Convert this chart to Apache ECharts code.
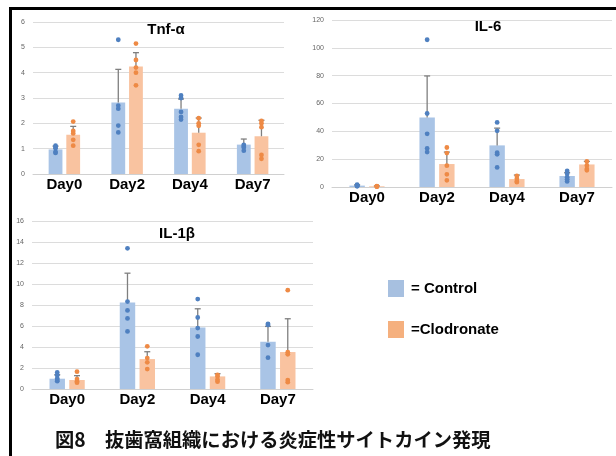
<!DOCTYPE html>
<html>
<head>
<meta charset="utf-8">
<script src="https://cdn.jsdelivr.net/npm/echarts@6/dist/echarts.min.js"></script>
<style>
html,body{margin:0;padding:0;background:#fff;}
#chart{width:616px;height:456px;}
</style>
</head>
<body>
<div id="chart"></div>
<script>
// ---- data ----
const days = ['Day0', 'Day2', 'Day4', 'Day7'];
const groupNames = ['= Control', '=Clodronate'];

const tnfControl = [0.97, 2.82, 2.58, 1.16];
const tnfClod = [1.55, 4.24, 1.63, 1.49];
const tnfControlErr = [1.1, 4.13, 2.96, 1.38];
const tnfClodErr = [1.88, 4.79, 2.21, 2.12];
const tnfControlDots = [[1.12, 1.07, 1.02, 0.87, 0.83], [5.3, 2.7, 2.58, 1.91, 1.64], [3.1, 3.0, 2.45, 2.25, 2.15], [1.15, 1.1, 1.05, 0.92]];
const tnfClodDots = [[2.07, 1.7, 1.6, 1.35, 1.12], [5.15, 4.5, 4.2, 4.0, 3.5], [2.2, 2.0, 1.9, 1.15, 0.9], [2.1, 2.0, 1.85, 0.75, 0.6]];

const il6Control = [1.0, 49.9, 29.9, 7.9];
const il6Clod = [0.5, 16.5, 5.7, 16.2];
const il6ControlErr = [1.6, 79.8, 42.3, 10.3];
const il6ClodErr = [0.8, 25.1, 8.6, 18.4];
const il6ControlDots = [[1.6, 1.2, 1.0, 0.8, 0.5], [105.8, 52.8, 38.2, 27.7, 25.1], [46.4, 40.4, 24.6, 23.5, 14.1], [11.5, 9.5, 7.0, 5.5, 4.0]];
const il6ClodDots = [[0.7, 0.5, 0.3, 0.2], [28.4, 24.4, 15.3, 9.1, 4.8], [7.9, 6.0, 4.2, 3.5], [18.4, 15.5, 13.0, 12.0]];

const il1bControl = [0.98, 8.24, 5.86, 4.5];
const il1bClod = [0.86, 2.85, 1.2, 3.52];
const il1bControlErr = [1.36, 11.03, 7.64, 5.96];
const il1bClodErr = [1.27, 3.55, 1.46, 6.69];
const il1bControlDots = [[1.58, 1.3, 1.0, 0.85, 0.75], [13.4, 8.33, 7.48, 6.72, 5.48], [8.56, 6.81, 5.8, 5.0, 3.26], [6.21, 6.1, 4.18, 2.98]];
const il1bClodDots = [[1.65, 0.95, 0.75, 0.6], [4.06, 2.95, 2.54, 1.9], [1.35, 1.2, 0.89, 0.7], [9.41, 3.5, 3.3, 0.85, 0.65]];

const yTicks = [
  {min: 0, max: 6, interval: 1},
  {min: 0, max: 120, interval: 20},
  {min: 0, max: 16, interval: 2}
];
const chartTitles = ['Tnf-α', 'IL-6', 'IL-1β'];
const figTitle = '図8　抜歯窩組織における炎症性サイトカイン発現';

// ---- styles ----
const barColors = ['#a9c4e6', '#f9c3a0'];
const legendColors = ['#a7c0e0', '#f5b07e'];
const dotColors = ['#4f80c0', '#ee8a45'];
const errColor = '#7f7f7f';
const BAR_W = 0.22, BAR_GAP = 0.28;
const OFFSET = BAR_W * (1 + BAR_GAP) / 2;

const grids = [
  {left: 33, top: 22, width: 251, height: 152},
  {left: 332, top: 20, width: 280, height: 167},
  {left: 32, top: 221, width: 281, height: 168}
];

const panels = [
  {ctrl: tnfControl, clod: tnfClod, ctrlErr: tnfControlErr, clodErr: tnfClodErr, ctrlDots: tnfControlDots, clodDots: tnfClodDots},
  {ctrl: il6Control, clod: il6Clod, ctrlErr: il6ControlErr, clodErr: il6ClodErr, ctrlDots: il6ControlDots, clodDots: il6ClodDots},
  {ctrl: il1bControl, clod: il1bClod, ctrlErr: il1bControlErr, clodErr: il1bClodErr, ctrlDots: il1bControlDots, clodDots: il1bClodDots}
];

function errRender(params, api) {
  const cat = api.value(0), base = api.value(1), top = api.value(2), g = api.value(3);
  const band = api.size([1, 0])[0];
  const dx = (g === 0 ? -1 : 1) * band * OFFSET;
  const p0 = api.coord([cat, base]);
  const p1 = api.coord([cat, top]);
  const x = p0[0] + dx;
  const cap = 3;
  return {
    type: 'group',
    children: [
      {type: 'line', shape: {x1: x, y1: p0[1], x2: x, y2: p1[1]}, style: {stroke: errColor, lineWidth: 1.3}},
      {type: 'line', shape: {x1: x - cap, y1: p1[1], x2: x + cap, y2: p1[1]}, style: {stroke: errColor, lineWidth: 1.3}}
    ]
  };
}
function dotRender(params, api) {
  const cat = api.value(0), v = api.value(1), g = api.value(2);
  const band = api.size([1, 0])[0];
  const dx = (g === 0 ? -1 : 1) * band * OFFSET;
  const p = api.coord([cat, v]);
  return {type: 'circle', shape: {cx: p[0] + dx, cy: p[1], r: 2.4}, style: {fill: dotColors[g]}};
}

const xAxes = [], yAxes = [], series = [];
panels.forEach((pn, i) => {
  xAxes.push({
    type: 'category', gridIndex: i, data: days,
    axisTick: {show: false},
    axisLine: {show: true, lineStyle: {color: '#d0d0d0', width: 1}},
    axisLabel: {fontSize: 15, fontWeight: 'bold', color: '#000', fontFamily: 'Liberation Sans, Arial', margin: 3}
  });
  yAxes.push({
    type: 'value', gridIndex: i, min: yTicks[i].min, max: yTicks[i].max, interval: yTicks[i].interval,
    axisLine: {show: false}, axisTick: {show: false},
    axisLabel: {fontSize: 7, color: '#666', margin: 8, fontFamily: 'Liberation Sans, Arial'},
    splitLine: {lineStyle: {color: '#dcdcdc', width: 1}}
  });
  series.push({
    type: 'bar', name: groupNames[0], xAxisIndex: i, yAxisIndex: i, data: pn.ctrl,
    barWidth: (BAR_W * 100) + '%', barGap: (BAR_GAP * 100) + '%',
    itemStyle: {color: barColors[0]}, silent: true, z: 2
  });
  series.push({
    type: 'bar', name: groupNames[1], xAxisIndex: i, yAxisIndex: i, data: pn.clod,
    barWidth: (BAR_W * 100) + '%', barGap: (BAR_GAP * 100) + '%',
    itemStyle: {color: barColors[1]}, silent: true, z: 2
  });
  const errData = [];
  days.forEach((d, k) => {
    errData.push([k, pn.ctrl[k], pn.ctrlErr[k], 0]);
    errData.push([k, pn.clod[k], pn.clodErr[k], 1]);
  });
  series.push({
    type: 'custom', xAxisIndex: i, yAxisIndex: i, data: errData, renderItem: errRender, silent: true, z: 3,
    encode: {x: 0, y: [1, 2]}
  });
  const dotData = [];
  pn.ctrlDots.forEach((arr, k) => arr.forEach(v => dotData.push([k, v, 0])));
  pn.clodDots.forEach((arr, k) => arr.forEach(v => dotData.push([k, v, 1])));
  series.push({
    type: 'custom', xAxisIndex: i, yAxisIndex: i, data: dotData, renderItem: dotRender, silent: true, z: 4,
    encode: {x: 0, y: 1}
  });
});

const titlePos = [[166, 30], [488, 27], [177, 234]];
const graphics = chartTitles.map((t, i) => ({
  type: 'text', x: titlePos[i][0], y: titlePos[i][1], z: 10,
  style: {text: t, font: 'bold 15px "Liberation Sans", Arial', fill: '#000',
    align: 'center', verticalAlign: 'middle', textAlign: 'center', textVerticalAlign: 'middle'}
}));
graphics.push({
  type: 'text', x: 55, y: 440, z: 10,
  style: {text: figTitle, font: 'bold 19.3px "Noto Sans CJK JP"', fill: '#111',
    align: 'left', verticalAlign: 'middle', textAlign: 'left', textVerticalAlign: 'middle'}
});
graphics.push({type: 'rect', shape: {x: 9, y: 7, width: 607, height: 3}, style: {fill: '#000'}, z: 10});
graphics.push({type: 'rect', shape: {x: 9, y: 7, width: 3, height: 449}, style: {fill: '#000'}, z: 10});

const chart = echarts.init(document.getElementById('chart'), null, {renderer: 'canvas'});
chart.setOption({
  animation: false,
  backgroundColor: '#fff',
  grid: grids,
  xAxis: xAxes,
  yAxis: yAxes,
  legend: {
    orient: 'vertical', left: 388, top: 280, padding: 0, itemWidth: 16, itemHeight: 17, itemGap: 24,
    selectedMode: false,
    icon: 'rect',
    data: [
      {name: groupNames[0], itemStyle: {color: legendColors[0]}},
      {name: groupNames[1], itemStyle: {color: legendColors[1]}}
    ],
    textStyle: {fontSize: 15, fontWeight: 'bold', color: '#000', fontFamily: 'Liberation Sans, Arial', padding: [0, 0, 0, 2]}
  },
  series: series,
  graphic: graphics
});
</script>
</body>
</html>
